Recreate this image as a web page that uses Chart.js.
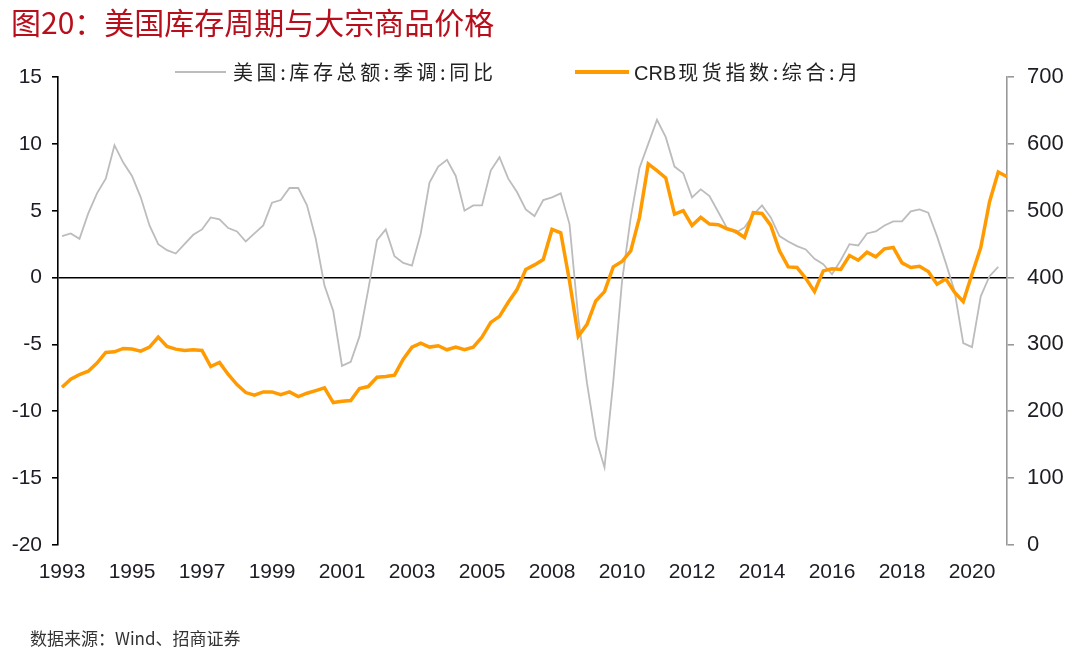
<!DOCTYPE html>
<html>
<head>
<meta charset="utf-8">
<script src="https://cdn.jsdelivr.net/npm/chart.js@4.4.1/dist/chart.umd.min.js"></script>
<style>
  body { margin: 0; background: #fff; }
  #wrap { position: relative; width: 1080px; height: 650px; }
  #c { position: absolute; left: 0; top: 0; }
  .txt { position: absolute; white-space: nowrap; font-family: "Noto Sans CJK SC", sans-serif; }
  #title { left: 11px; top: -1px; font-size: 30px; color: #b80f1c; }
  #src { left: 30px; top: 625px; font-size: 17px; color: #333; }
  .leg { top: 59px; font-size: 20px; line-height: 26px; color: #222; letter-spacing: 3.6px; }
  .lat { letter-spacing: 0; font-family: "Liberation Sans", Arial, sans-serif; margin-right: 2px; }
  .legline { position: absolute; }
</style>
</head>
<body>
<div id="wrap">
  <canvas id="c" width="1080" height="650"></canvas>
  <div class="txt" id="title">图20：美国库存周期与大宗商品价格</div>
  <div class="legline" style="left:175px;top:71px;width:51px;height:2px;background:#bcbcbc"></div>
  <div class="txt leg" style="left:233px">美国:库存总额:季调:同比</div>
  <div class="legline" style="left:575px;top:70px;width:54px;height:4px;background:#ff9b00"></div>
  <div class="txt leg" style="left:634px"><span class="lat">CRB</span>现货指数:综合:月</div>
  <div class="txt" id="src">数据来源：Wind、招商证券</div>
</div>
<script>
// x axis tick labels, one per label interval
const yearLabels = ['1993', '1995', '1997', '1999', '2001', '2003', '2005',
                    '2008', '2010', '2012', '2014', '2016', '2018', '2020'];
// points per label interval
const perLabel = 8;

// 美国:库存总额:季调:同比 (%), left axis
const inventoryYoY = [
  3.1, 3.3, 2.9, 4.8, 6.3, 7.4, 9.9, 8.6, 7.6, 6.0,
  3.9, 2.5, 2.05, 1.8, 2.5, 3.2, 3.6, 4.5, 4.35, 3.7,
  3.45, 2.7, 3.3, 3.9, 5.6, 5.8, 6.7, 6.7, 5.4, 2.9,
  -0.6, -2.5, -6.6, -6.3, -4.4, -0.9, 2.8, 3.6, 1.6, 1.1,
  0.9, 3.3, 7.1, 8.3, 8.8, 7.6, 5.0, 5.4, 5.4, 8.0,
  9.0, 7.4, 6.4, 5.1, 4.6, 5.8, 6.0, 6.3, 4.0, -3.0,
  -7.9, -12.0, -14.2, -7.8, -0.3, 4.5, 8.2, 10.0, 11.8, 10.5,
  8.3, 7.8, 6.0, 6.6, 6.1, 4.9, 3.7, 3.35, 3.75, 4.7,
  5.4, 4.5, 3.1, 2.7, 2.35, 2.1, 1.4, 1.0, 0.25, 1.3,
  2.5, 2.4, 3.3, 3.45, 3.9, 4.2, 4.2, 4.95, 5.1, 4.85,
  3.1, 1.1, -1.0, -4.9, -5.2, -1.4, 0.1, 0.8
];

// CRB现货指数:综合:月, right axis
const crbSpot = [
  236, 248, 255, 260, 272, 288, 289, 294, 293, 290,
  296, 311, 297, 293, 291, 292, 291, 267, 273, 255,
  240, 228, 224, 229, 229, 225, 229, 222, 227, 231,
  235, 213, 215, 216, 234, 237, 251, 252, 254, 278,
  296, 302, 296, 298, 292, 296, 292, 296, 311, 333,
  342, 363, 382, 412, 419, 427, 472, 467, 395, 312,
  330, 365, 379, 416, 424, 440, 490, 570, 560, 549,
  495, 500, 478, 490, 480, 479, 473, 469, 460, 497,
  496, 478, 440, 416, 415, 399, 379, 410, 413, 412,
  433, 426, 438, 431, 443, 445, 422, 415, 417, 409,
  390, 398, 378, 364, 405, 445, 513, 558, 551
];

const toPoints = vals => vals.map((v, k) => ({ x: k / perLabel, y: v }));

const tickFont = { family: '"Liberation Sans", Arial, sans-serif', size: 21 };

const ctx = document.getElementById('c').getContext('2d');
const chart = new Chart(ctx, {
  type: 'line',
  data: {
    datasets: [
      {
        label: 'CRB现货指数:综合:月',
        data: toPoints(crbSpot),
        yAxisID: 'yR',
        borderColor: '#ff9b00',
        borderWidth: 3.5,
        pointRadius: 0,
        tension: 0,
        order: 0
      },
      {
        label: '美国:库存总额:季调:同比',
        data: toPoints(inventoryYoY),
        yAxisID: 'yL',
        borderColor: '#bcbcbc',
        borderWidth: 1.8,
        pointRadius: 0,
        tension: 0,
        order: 1
      }
    ]
  },
  options: {
    responsive: false,
    animation: false,
    layout: { padding: { top: 77, bottom: 0, left: 0, right: 0 } },
    plugins: {
      legend: { display: false },
      tooltip: { enabled: false }
    },
    scales: {
      x: {
        type: 'linear',
        min: -0.057,
        max: 13.5,
        grid: { display: false, drawTicks: false },
        border: { display: false },
        afterBuildTicks: scale => {
          scale.ticks = yearLabels.map((_, i) => ({ value: i }));
        },
        afterFit: scale => { scale.height = 105; },
        ticks: {
          autoSkip: false,
          maxRotation: 0,
          padding: 15,
          color: '#1c1c24',
          font: tickFont,
          callback: v => yearLabels[v]
        }
      },
      yL: {
        position: 'left',
        min: -20,
        max: 15,
        afterFit: scale => { scale.width = 58; },
        ticks: { stepSize: 5, padding: 10, color: '#1c1c24', font: tickFont },
        grid: {
          drawOnChartArea: true,
          color: c => (c.tick && c.tick.value === 0) ? '#000' : 'rgba(0,0,0,0)',
          lineWidth: 1.6,
          tickColor: '#000',
          tickLength: 6
        },
        border: { display: true, color: '#000', width: 1.6 }
      },
      yR: {
        position: 'right',
        min: 0,
        max: 700,
        afterFit: scale => { scale.width = 73; },
        ticks: { stepSize: 100, padding: 13, color: '#1c1c24', font: { family: tickFont.family, size: 22 } },
        grid: {
          drawOnChartArea: false,
          tickColor: '#999',
          lineWidth: 1.6,
          tickLength: 7
        },
        border: { display: true, color: '#999', width: 1.6 }
      }
    }
  }
});
</script>
</body>
</html>
